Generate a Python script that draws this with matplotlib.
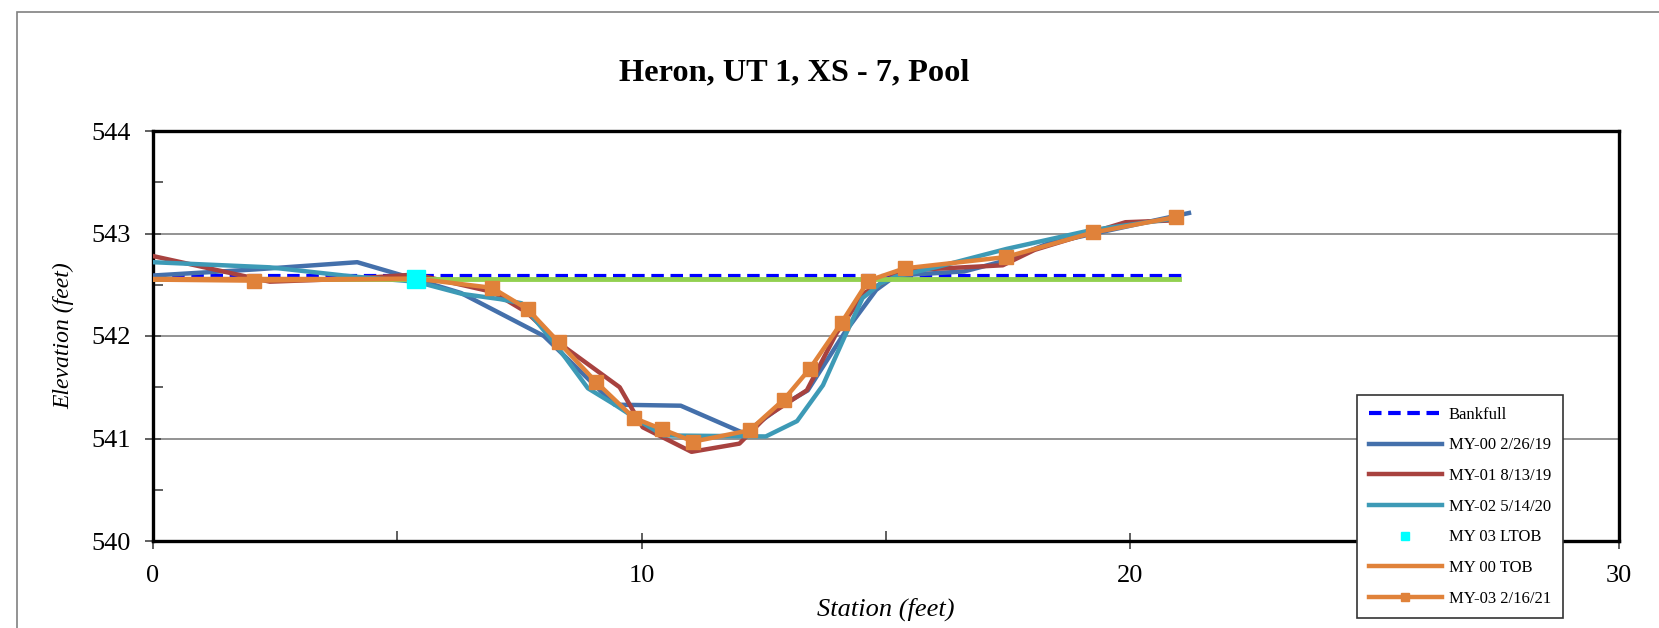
import matplotlib
matplotlib.use("Agg")
import matplotlib.pyplot as plt
from matplotlib.patches import Rectangle
from matplotlib.ticker import MultipleLocator

plt.rcParams['font.family'] = ['Liberation Serif', 'DejaVu Serif']

title = "Heron, UT 1, XS - 7, Pool"

# Bankfull and top-of-bank levels
bankfull_x = [0, 21.1]
bankfull_y = [542.59, 542.59]
green_x = [0, 21.0]
green_y = [542.555, 542.555]
ltob_x = [5.38]
ltob_y = [542.56]
tob00_x = [0, 5.38]
tob00_y = [542.56, 542.56]

# MY-00 2/26/19
my00_x = [0, 2.1, 4.18, 5.4, 6.3, 8.0, 9.45, 10.8, 12.1, 12.9, 13.4, 14.15, 14.8, 15.2, 16.6, 17.4, 18.3, 21.2]
my00_y = [542.59, 542.65, 542.72, 542.55, 542.42, 542.0, 541.33, 541.32, 541.05, 541.33, 541.47, 542.03, 542.45, 542.59, 542.63, 542.73, 542.9, 543.2]

# MY-01 8/13/19
my01_x = [0, 2.39, 4.1, 5.38, 6.95, 7.65, 8.34, 9.55, 10.02, 11.02, 12.0, 12.54, 13.38, 13.99, 14.56, 15.37, 17.39, 18.04, 19.9, 21.0]
my01_y = [542.78, 542.53, 542.56, 542.6, 542.43, 542.23, 541.92, 541.5, 541.11, 540.87, 540.95, 541.21, 541.47, 542.03, 542.42, 542.64, 542.69, 542.84, 543.11, 543.13]

# MY-02 5/14/20
my02_x = [0, 2.39, 4.1, 5.38, 6.33, 7.1, 7.54, 8.25, 8.9, 9.45, 10.06, 10.45, 12.54, 13.18, 13.71, 14.15, 14.52, 14.88, 15.2, 16.1, 17.47, 19.17, 20.95]
my02_y = [542.72, 542.67, 542.58, 542.53, 542.41, 542.36, 542.32, 541.91, 541.49, 541.33, 541.14, 541.03, 541.02, 541.17, 541.52, 541.99, 542.37, 542.51, 542.58, 542.68, 542.85, 543.03, 543.15]

# MY-03 2/16/21
my03_x = [0, 2.07, 5.38, 6.94, 7.67, 8.3, 9.07, 9.84, 10.42, 11.06, 12.21, 12.91, 13.44, 14.09, 14.64, 15.38, 17.45, 19.24, 20.93]
my03_y = [542.55, 542.54, 542.56, 542.47, 542.26, 541.94, 541.55, 541.2, 541.09, 540.97, 541.08, 541.38, 541.68, 542.13, 542.54, 542.66, 542.77, 543.01, 543.16]

W, H = 1659, 628
fig = plt.figure(figsize=(W / 100, H / 100), dpi=100)
ax = fig.add_axes([153 / W, 1 - 541 / H, (1619 - 153) / W, (541 - 131) / H])

# outer chart-area frame
fig.patches.append(Rectangle((17 / W, -0.1), 1.2, 1 - 12 / H + 0.1, transform=fig.transFigure,
                             fill=False, edgecolor='#808080', linewidth=1.2))

blue = '#4470AB'
red = '#A8423F'
teal = '#3D9AB6'
orange = '#E0823A'
lime = '#92D050'

ax.plot(bankfull_x, bankfull_y, color='#0000FF', lw=3, dashes=(3, 1.6), label='Bankfull', zorder=3)
ax.plot(my00_x, my00_y, color=blue, lw=3.2, label='MY-00 2/26/19', zorder=4)
ax.plot(my01_x, my01_y, color=red, lw=3.2, label='MY-01 8/13/19', zorder=5)
ax.plot(my02_x, my02_y, color=teal, lw=3.2, label='MY-02 5/14/20', zorder=6)
ax.plot(green_x, green_y, color=lime, lw=3.5, zorder=6.5)
ax.plot(ltob_x, ltob_y, ls='none', marker='s', ms=13.5, color='#00FFFF', label='MY 03 LTOB', zorder=10)
ax.plot(tob00_x, tob00_y, color=orange, lw=3.2, label='MY 00 TOB', zorder=7)
ax.plot(my03_x, my03_y, color=orange, lw=3.2, marker='s', ms=9.5, markevery=list(range(1, len(my03_x))),
        label='MY-03 2/16/21', zorder=8)

ax.set_xlim(0, 30)
ax.set_ylim(540, 544)
ax.xaxis.set_major_locator(MultipleLocator(10))
ax.xaxis.set_minor_locator(MultipleLocator(5))
ax.yaxis.set_major_locator(MultipleLocator(1))
ax.yaxis.set_minor_locator(MultipleLocator(0.5))
ax.grid(axis='y', which='major', color='#808080', lw=1.2, zorder=0)
ax.set_axisbelow(True)

for s in ax.spines.values():
    s.set_linewidth(2.4)
    s.set_color('black')

ax.tick_params(axis='both', which='major', direction='inout', length=12, width=1.2, labelsize=19, color='#444444')
ax.tick_params(axis='y', which='major', pad=10)
ax.tick_params(axis='x', which='major', pad=11)
ax.tick_params(axis='both', which='minor', direction='in', length=7, width=1.2, color='#444444')

ax.set_xlabel('Station (feet)', fontsize=19, style='italic', labelpad=8)
ax.set_ylabel('Elevation (feet)', fontsize=17, style='italic', labelpad=12)

fig.text(794 / W, 1 - 73 / H, title, ha='center', va='center', fontsize=23.3, fontweight='bold')

leg = ax.legend(loc='upper left', bbox_to_anchor=(1357 / W, 1 - 395 / H), bbox_transform=fig.transFigure,
                fontsize=12, frameon=True, fancybox=False, edgecolor='#333333', framealpha=1,
                handlelength=4.4, labelspacing=0.88, borderpad=0.7, handletextpad=0.4, borderaxespad=0)
leg.get_frame().set_linewidth(1.2)
leg.set_zorder(20)
for h in leg.legend_handles:
    if h.get_marker() not in (None, 'None', '', ' '):
        h.set_markersize(5.5)

fig.savefig('out.png', dpi=100)
